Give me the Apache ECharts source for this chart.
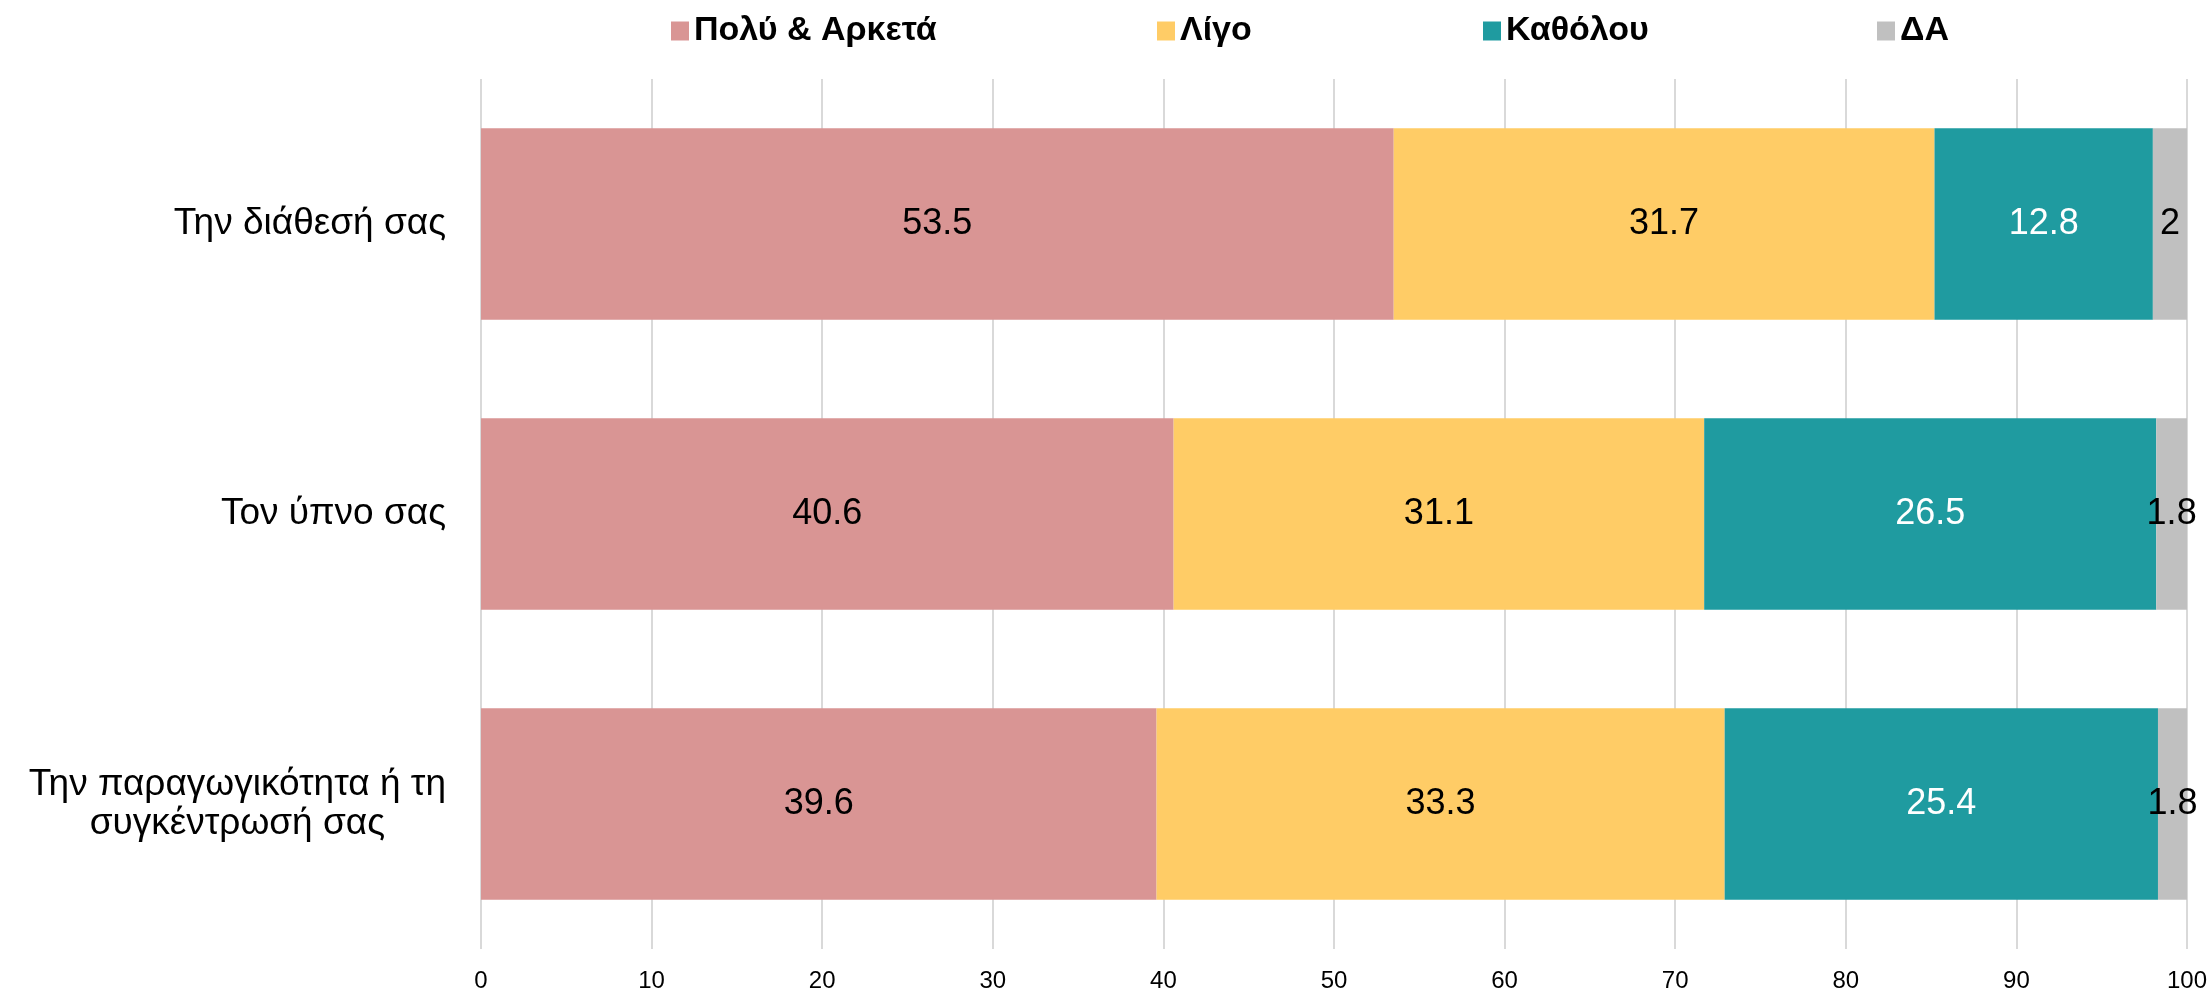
<!DOCTYPE html>
<html>
<head>
<meta charset="utf-8">
<script src="https://cdn.jsdelivr.net/npm/echarts@6/dist/echarts.min.js"></script>
<style>
  html, body { margin: 0; padding: 0; background: #ffffff; }
  #chart { width: 2210px; height: 993px; }
</style>
</head>
<body>
<div id="chart"></div>
<script>
// κατηγορίες (από πάνω προς τα κάτω)
var categories = ['Την διάθεσή σας', 'Τον ύπνο σας', 'Την παραγωγικότητα ή τη\nσυγκέντρωσή σας'];
var seriesNames = ['Πολύ & Αρκετά', 'Λίγο', 'Καθόλου', 'ΔΑ'];
var poluArketa = [53.5, 40.6, 39.6];
var ligo = [31.7, 31.1, 33.3];
var katholou = [12.8, 26.5, 25.4];
var da = [2, 1.8, 1.8];
var xTicks = [0, 10, 20, 30, 40, 50, 60, 70, 80, 90, 100];

var colors = ['#D99594', '#FFCC66', '#1F9BA0', '#C0C0C0'];
var labelColors = ['#000000', '#000000', '#ffffff', '#000000'];
var seriesData = [poluArketa, ligo, katholou, da];
var legendLeft = [666, 1152, 1478, 1872];

window.onload = function() {
    var chart = echarts.init(document.getElementById('chart'));

    var series = seriesNames.map(function(name, i) {
        return {
            name: name,
            type: 'bar',
            stack: 'total',
            barCategoryGap: '34%',
            data: seriesData[i],
            itemStyle: { color: colors[i] },
            label: {
                show: true,
                position: 'inside',
                color: labelColors[i],
                fontSize: 36,
                fontFamily: 'Liberation Sans',
                formatter: function(p) { return p.value; }
            }
        };
    });

    // ένα legend για κάθε σειρά, ώστε να μπουν στις θέσεις του πρωτότυπου
    var legends = seriesNames.map(function(name, i) {
        return {
            data: [name],
            left: legendLeft[i],
            top: 9,
            icon: 'rect',
            itemWidth: 18,
            itemHeight: 19,
            itemGap: 8,
            textStyle: {
                fontSize: 34,
                fontWeight: 'bold',
                fontFamily: 'Liberation Sans',
                color: '#000000'
            }
        };
    });

    var option = {
        animation: false,
        backgroundColor: '#ffffff',
        legend: legends,
        grid: { left: 481, right: 22, top: 79, bottom: 44 },
        xAxis: {
            type: 'value',
            min: 0,
            max: 100,
            interval: 10,
            axisLine: { show: false },
            axisTick: { show: false },
            splitLine: { lineStyle: { color: '#d9d9d9', width: 2 } },
            axisLabel: {
                margin: 20,
                fontSize: 24,
                fontFamily: 'Liberation Sans',
                color: '#000000',
                formatter: function(v) { return xTicks.indexOf(v) >= 0 ? String(v) : ''; }
            }
        },
        yAxis: {
            type: 'category',
            inverse: true,
            data: categories,
            axisLine: { show: false },
            axisTick: { show: false },
            axisLabel: {
                margin: 35,
                fontSize: 37,
                fontFamily: 'Liberation Sans',
                color: '#000000',
                formatter: function(v) {
                    return v.split('\n').map(function(s) { return '{c|' + s + '}'; }).join('\n');
                },
                rich: {
                    c: { align: 'center', fontSize: 37, lineHeight: 39, fontFamily: 'Liberation Sans', color: '#000000' }
                }
            }
        },
        series: series
    };

    chart.setOption(option);
};
</script>
</body>
</html>
